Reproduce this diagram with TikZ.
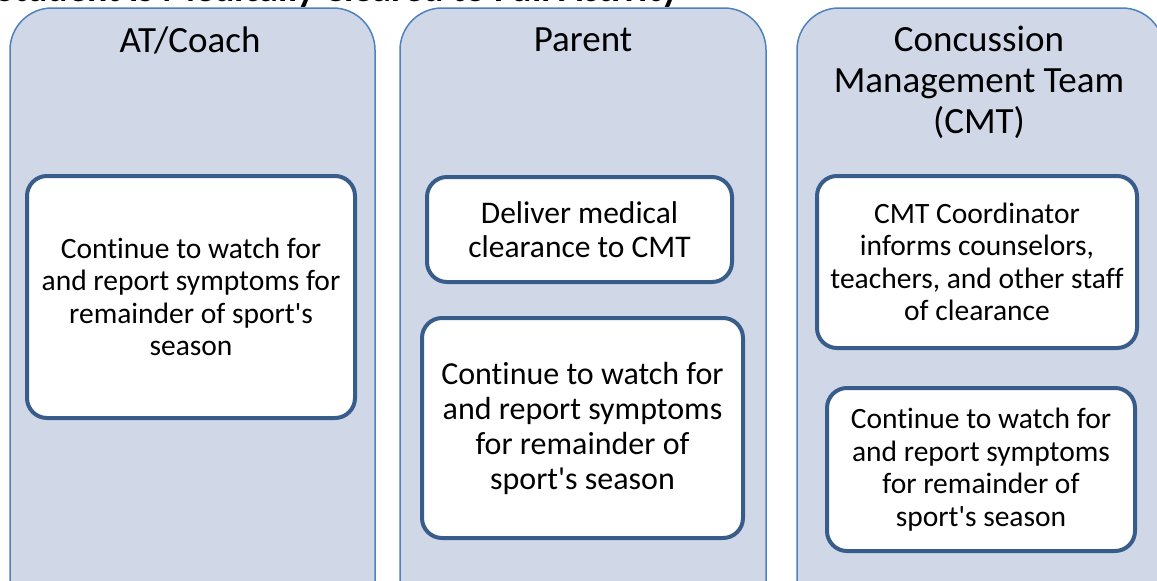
\documentclass[tikz,border=0pt]{standalone}
\usepackage{fontspec}
\newfontfamily\calfont{Carlito}[RawFeature={-liga}]
\definecolor{panelfill}{RGB}{208,216,232}
\definecolor{panelline}{RGB}{79,129,189}
\definecolor{boxline}{RGB}{56,93,138}
\begin{document}
\begin{tikzpicture}[x=1pt,y=-1pt,
  panel/.style={fill=panelfill,draw=panelline,line width=1.5pt,rounded corners=42pt},
  head/.style={font=\calfont\fontsize{37}{41}\selectfont,align=center,inner sep=0pt},
  inbox/.style={draw=boxline,fill=white,line width=4pt,rounded corners=20pt,align=center,inner sep=0pt},
  intext/.style={font=\calfont\fontsize{29.5}{32.5}\selectfont}]
\useasboundingbox (0,0) rectangle (1157,581);
\clip (0,0) rectangle (1157,581);
\fill[white] (0,0) rectangle (1157,581);
% cut-off title
\node[anchor=base west,inner sep=0pt,font=\calfont\fontsize{38}{42}\selectfont\bfseries] (title) at (-4,1) {Student is Medically Cleared to Full Activity};
% panels
\draw[panel] (10,8) rectangle (375,625);
\draw[panel] (400,8) rectangle (766,625);
\draw[panel] (797,8) rectangle (1164,625);
% headers
\node[head] (h1) at (190,40) {AT/Coach};
\node[head] (h2) at (583,40) {Parent};
\node[head] (h3) at (979,82) {Concussion\\Management Team\\(CMT)};
% inner boxes
\node[inbox,minimum width=328pt,minimum height=242pt,intext] (a1) at (191,297)
  {Continue to watch for\\and report symptoms for\\remainder of sport's\\season};
\node[inbox,minimum width=305pt,minimum height=105pt,font=\calfont\fontsize{31.5}{34}\selectfont] (p1) at (579.5,229.5)
  {Deliver medical\\clearance to CMT};
\node[inbox,minimum width=321pt,minimum height=220pt,font=\calfont\fontsize{32}{35}\selectfont] (p2) at (582.5,428)
  {Continue to watch for\\and report symptoms\\for remainder of\\sport's season};
\node[inbox,minimum width=320pt,minimum height=172pt,intext] (c1) at (977,262)
  {CMT Coordinator\\informs counselors,\\teachers, and other staff\\of clearance};
\node[inbox,minimum width=308pt,minimum height=163pt,intext] (c2) at (981,469.5)
  {Continue to watch for\\and report symptoms\\for remainder of\\sport's season};
\end{tikzpicture}
\end{document}
